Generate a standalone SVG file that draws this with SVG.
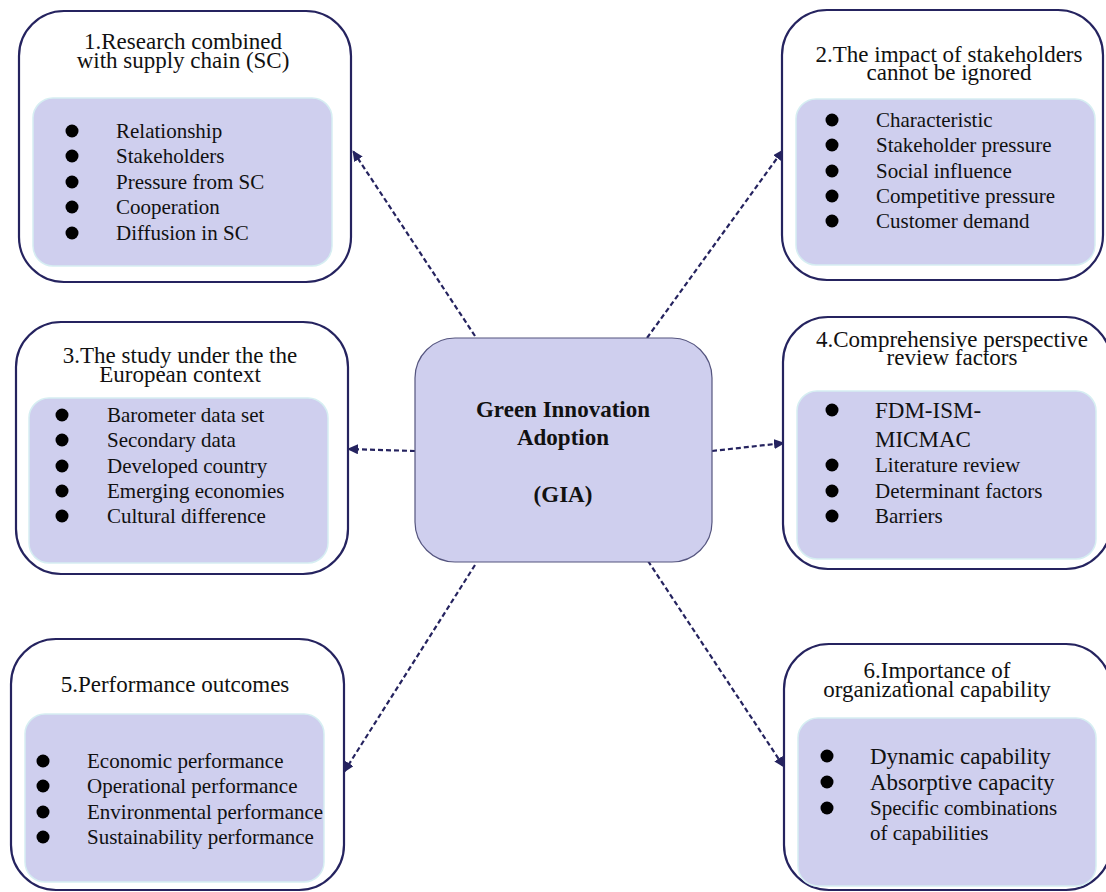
<svg xmlns="http://www.w3.org/2000/svg" width="1106" height="892" viewBox="0 0 1106 892">
<style>
.outer{fill:#ffffff;stroke:#25235f;stroke-width:2.2}
.inner{fill:#cfcfee;stroke:#d6eef2;stroke-width:1.5}
.center{fill:#cfcfee;stroke:#55557f;stroke-width:1.2}
text{font-family:"Liberation Serif","Times New Roman",serif;fill:#111111}
.t{font-size:23px;text-anchor:middle}
.i{font-size:21px}
.ib{font-size:23px}
.c{font-size:23px;font-weight:bold;text-anchor:middle}
.dot{fill:#000000}
.con{stroke:#25235f;stroke-width:2.2;stroke-dasharray:5 3;fill:none;marker-end:url(#ah)}
</style>
<defs>
<marker id="ah" markerWidth="12" markerHeight="10" refX="10" refY="5" orient="auto" markerUnits="userSpaceOnUse">
<path d="M0,0 L11,5 L0,10 Z" fill="#25235f"/>
</marker>
</defs>
<rect width="1106" height="892" fill="#ffffff"/>

<g id="connectors">
<line class="con" x1="475" y1="336" x2="353" y2="151"/>
<line class="con" x1="647" y1="338" x2="783" y2="150"/>
<line class="con" x1="415" y1="451" x2="348" y2="449"/>
<line class="con" x1="712" y1="451" x2="784" y2="443"/>
<line class="con" x1="475" y1="565" x2="344" y2="772"/>
<line class="con" x1="648" y1="561" x2="784" y2="767"/>
</g>

<g id="center">
<rect class="center" x="415" y="338" width="297" height="224" rx="40" ry="40"/>
<text class="c" x="563" y="417">Green Innovation</text>
<text class="c" x="563" y="445">Adoption</text>
<text class="c" x="563" y="502">(GIA)</text>
</g>

<g id="node1">
<rect class="outer" x="19" y="11" width="332" height="271" rx="45" ry="45"/>
<rect class="inner" x="33" y="98" width="299" height="168" rx="20" ry="20"/>
<text class="t" x="183" y="49">1.Research combined</text>
<text class="t" x="183" y="68">with supply chain (SC)</text>
<circle class="dot" cx="72" cy="131" r="6.5"/>
<circle class="dot" cx="72" cy="156" r="6.5"/>
<circle class="dot" cx="72" cy="182" r="6.5"/>
<circle class="dot" cx="72" cy="207" r="6.5"/>
<circle class="dot" cx="72" cy="233" r="6.5"/>
<text class="i" x="116" y="138">Relationship</text>
<text class="i" x="116" y="163">Stakeholders</text>
<text class="i" x="116" y="189">Pressure from SC</text>
<text class="i" x="116" y="214">Cooperation</text>
<text class="i" x="116" y="240">Diffusion in SC</text>
</g>

<g id="node2">
<rect class="outer" x="782" y="10" width="321" height="270" rx="45" ry="45"/>
<rect class="inner" x="796" y="99" width="299" height="166" rx="20" ry="20"/>
<text class="t" x="949" y="62">2.The impact of stakeholders</text>
<text class="t" x="949" y="80">cannot be ignored</text>
<circle class="dot" cx="832" cy="120" r="6.5"/>
<circle class="dot" cx="832" cy="145" r="6.5"/>
<circle class="dot" cx="832" cy="171" r="6.5"/>
<circle class="dot" cx="832" cy="196" r="6.5"/>
<circle class="dot" cx="832" cy="221" r="6.5"/>
<text class="i" x="876" y="127">Characteristic</text>
<text class="i" x="876" y="152">Stakeholder pressure</text>
<text class="i" x="876" y="178">Social influence</text>
<text class="i" x="876" y="203">Competitive pressure</text>
<text class="i" x="876" y="228">Customer demand</text>
</g>

<g id="node3">
<rect class="outer" x="16" y="322" width="332" height="252" rx="45" ry="45"/>
<rect class="inner" x="29" y="398" width="299" height="165" rx="20" ry="20"/>
<text class="t" x="180" y="363">3.The study under the the</text>
<text class="t" x="180" y="382">European context</text>
<circle class="dot" cx="62" cy="415" r="6.5"/>
<circle class="dot" cx="62" cy="440" r="6.5"/>
<circle class="dot" cx="62" cy="466" r="6.5"/>
<circle class="dot" cx="62" cy="491" r="6.5"/>
<circle class="dot" cx="62" cy="516" r="6.5"/>
<text class="i" x="107" y="422">Barometer data set</text>
<text class="i" x="107" y="447">Secondary data</text>
<text class="i" x="107" y="473">Developed country</text>
<text class="i" x="107" y="498">Emerging economies</text>
<text class="i" x="107" y="523">Cultural difference</text>
</g>

<g id="node4">
<rect class="outer" x="783" y="317" width="328" height="252" rx="45" ry="45"/>
<rect class="inner" x="797" y="391" width="299" height="168" rx="20" ry="20"/>
<text class="t" x="952" y="347">4.Comprehensive perspective</text>
<text class="t" x="952" y="365">review factors</text>
<circle class="dot" cx="832" cy="410" r="6.5"/>
<circle class="dot" cx="832" cy="465" r="6.5"/>
<circle class="dot" cx="832" cy="491" r="6.5"/>
<circle class="dot" cx="832" cy="516" r="6.5"/>
<text class="ib" x="875" y="418">FDM-ISM-</text>
<text class="ib" x="875" y="447">MICMAC</text>
<text class="i" x="875" y="472">Literature review</text>
<text class="i" x="875" y="498">Determinant factors</text>
<text class="i" x="875" y="523">Barriers</text>
</g>

<g id="node5">
<rect class="outer" x="11" y="639" width="333" height="251" rx="45" ry="45"/>
<rect class="inner" x="25" y="714" width="299" height="168" rx="20" ry="20"/>
<text class="t" x="175" y="692">5.Performance outcomes</text>
<circle class="dot" cx="43" cy="761" r="6.5"/>
<circle class="dot" cx="43" cy="786" r="6.5"/>
<circle class="dot" cx="43" cy="812" r="6.5"/>
<circle class="dot" cx="43" cy="837" r="6.5"/>
<text class="i" x="87" y="768">Economic performance</text>
<text class="i" x="87" y="793">Operational performance</text>
<text class="i" x="87" y="819">Environmental performance</text>
<text class="i" x="87" y="844">Sustainability performance</text>
</g>

<g id="node6">
<rect class="outer" x="784" y="644" width="327" height="246" rx="45" ry="45"/>
<rect class="inner" x="798" y="718" width="298" height="168" rx="20" ry="20"/>
<text class="t" x="937" y="678">6.Importance of</text>
<text class="t" x="937" y="697">organizational capability</text>
<circle class="dot" cx="827" cy="756" r="6.5"/>
<circle class="dot" cx="827" cy="782" r="6.5"/>
<circle class="dot" cx="827" cy="808" r="6.5"/>
<text class="ib" x="870" y="764">Dynamic capability</text>
<text class="ib" x="870" y="790">Absorptive capacity</text>
<text class="i" x="870" y="815">Specific combinations</text>
<text class="i" x="870" y="840">of capabilities</text>
</g>
</svg>
